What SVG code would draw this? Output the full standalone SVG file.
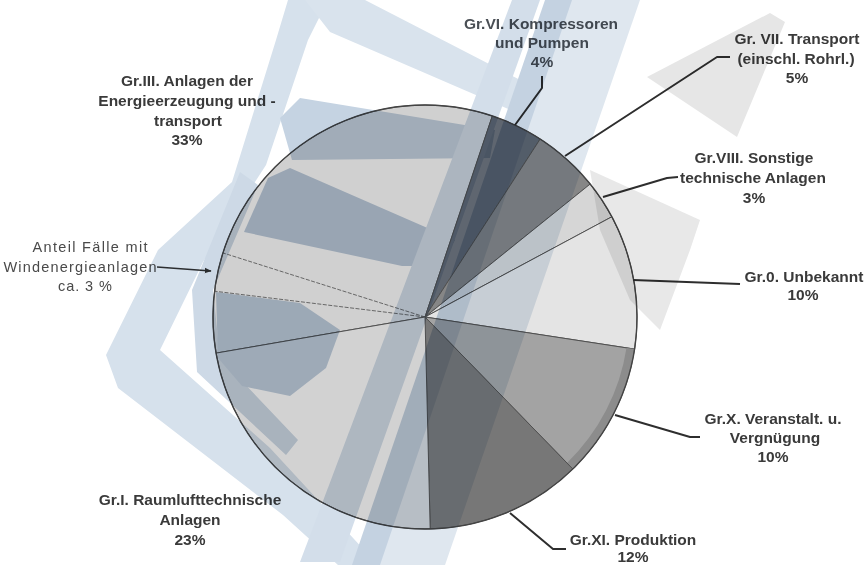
<svg xmlns="http://www.w3.org/2000/svg" width="866" height="565" viewBox="0 0 866 565">
<style>
.lbl{font-family:"Liberation Sans",Arial,sans-serif;font-weight:bold;font-size:15.5px;fill:#3a3a3a;text-anchor:middle}
.note{font-family:"Liberation Sans",Arial,sans-serif;font-size:14.5px;fill:#4a4a4a;text-anchor:middle}
.sl{stroke:#505050;stroke-width:1;stroke-linejoin:round}
.ld{fill:none;stroke:#2e2e2e;stroke-width:2;stroke-linejoin:round}
.wm{mix-blend-mode:multiply}
</style>
<defs>
<marker id="arr" viewBox="0 0 10 10" refX="9" refY="5" markerWidth="7" markerHeight="7" orient="auto" markerUnits="userSpaceOnUse">
<path d="M0,1 L10,5 L0,9 Z" fill="#333"/>
</marker>
</defs>
<rect width="866" height="565" fill="#ffffff"/>

<g id="gr-III">
<path class="sl" d="M425,317 L216.1,353.1 A212,212 0 0 1 492.3,116 Z" fill="#d0d0d0"/>
<line x1="425" y1="317" x2="214.6" y2="291.2" stroke="#5a5a5a" stroke-width="0.9" stroke-dasharray="4 1.5"/>
<line x1="425" y1="317" x2="222.9" y2="252.9" stroke="#5a5a5a" stroke-width="0.9" stroke-dasharray="4 1.5"/>
<text class="lbl" x="187" y="86">Gr.III. Anlagen der</text>
<text class="lbl" x="187" y="106">Energieerzeugung und -</text>
<text class="lbl" x="188" y="126">transport</text>
<text class="lbl" x="187" y="145">33%</text>
</g>
<g id="gr-VI">
<path class="sl" d="M425,317 L492.3,116 A212,212 0 0 1 540.2,139 Z" fill="#5f6670"/>
<text class="lbl" x="541" y="29" style="fill:#4a4f55">Gr.VI. Kompressoren</text>
<text class="lbl" x="542" y="48" style="fill:#4a4f55">und Pumpen</text>
<text class="lbl" x="542" y="67" style="fill:#4a4f55">4%</text>
</g>
<g id="gr-VII">
<path class="sl" d="M425,317 L540.2,139 A212,212 0 0 1 590.1,184.1 Z" fill="#868686"/>
<text class="lbl" x="797" y="44">Gr. VII. Transport</text>
<text class="lbl" x="796" y="64">(einschl. Rohrl.)</text>
<text class="lbl" x="797" y="83">5%</text>
</g>
<g id="gr-VIII">
<path class="sl" d="M425,317 L590.1,184.1 A212,212 0 0 1 611.8,216.8 Z" fill="#d6d6d6"/>
<text class="lbl" x="754" y="163">Gr.VIII. Sonstige</text>
<text class="lbl" x="753" y="183">technische Anlagen</text>
<text class="lbl" x="754" y="203">3%</text>
</g>
<g id="gr-0">
<path class="sl" d="M425,317 L611.8,216.8 A212,212 0 0 1 634.6,349.1 Z" fill="#e4e4e4"/>
<text class="lbl" x="804" y="282">Gr.0. Unbekannt</text>
<text class="lbl" x="803" y="300">10%</text>
</g>
<g id="gr-X">
<path class="sl" d="M425,317 L634.6,349.1 A212,212 0 0 1 572.8,469 Z" fill="#a3a3a3"/>
<path d="M634.6,349.1 A212,212 0 0 1 572.8,469 L567,463 A204,204 0 0 0 626.5,348 Z" fill="#8c8c8c"/>
<text class="lbl" x="773" y="424">Gr.X. Veranstalt. u.</text>
<text class="lbl" x="775" y="443">Vergnügung</text>
<text class="lbl" x="773" y="462">10%</text>
</g>
<g id="gr-XI">
<path class="sl" d="M425,317 L572.8,469 A212,212 0 0 1 430.2,528.9 Z" fill="#777777"/>
<text class="lbl" x="633" y="545">Gr.XI. Produktion</text>
<text class="lbl" x="633" y="562">12%</text>
</g>
<g id="gr-I">
<path class="sl" d="M425,317 L430.2,528.9 A212,212 0 0 1 216.1,353.1 Z" fill="#d2d2d2"/>
<text class="lbl" x="190" y="505">Gr.I. Raumlufttechnische</text>
<text class="lbl" x="190" y="525">Anlagen</text>
<text class="lbl" x="190" y="545">23%</text>
</g>
<g id="note-wind">
<text class="note" x="90" y="252" textLength="115" lengthAdjust="spacing">Anteil Fälle mit</text>
<text class="note" x="80" y="272" textLength="153" lengthAdjust="spacing">Windenergieanlagen</text>
<text class="note" x="85" y="291" textLength="54" lengthAdjust="spacing">ca. 3 %</text>
</g>
<circle cx="425" cy="317" r="212" fill="none" stroke="#444" stroke-width="1.4"/>

<g id="connectors">
<polyline class="ld" points="542,76 542,88 515,125"/>
<polyline class="ld" points="730,57 717,57 565,156"/>
<polyline class="ld" points="678,177 667,178 603,197"/>
<polyline class="ld" points="633,280 740,284"/>
<polyline class="ld" points="615,415 690,437 700,437"/>
<polyline class="ld" points="510,513 553,549 566,549"/>
<line x1="157" y1="267" x2="211" y2="271" stroke="#333" stroke-width="1.6" marker-end="url(#arr)"/>
</g>

<g id="watermark" class="wm">
<polygon fill="#d6e1ec" points="288,0 328,0 308,40 266,165 203,262 160,350 270,448 378,565 338,565 283,515 118,388 106,355 158,250 232,182 276,40"/>
<polygon fill="#cdd9e6" points="240,172 258,185 213,290 220,358 298,440 286,455 197,372 192,290"/>
<polygon fill="#d9e3ed" points="305,0 365,0 530,85 522,115 330,32"/>
<polygon fill="#c5d3e2" points="280,118 300,98 495,130 490,158 292,160"/>
<polygon fill="#bccbdc" points="268,178 290,168 455,240 440,266 402,266 244,232"/>
<polygon fill="#c0cfdf" points="216,292 300,303 340,330 326,368 290,396 242,386 218,358"/>
<polygon fill="#dfe7ef" points="566,0 640,0 445,565 372,565"/>
<polygon fill="#c4d2e1" points="545,0 572,0 380,565 352,565"/>
<polygon fill="#d3deea" points="512,0 540,0 340,562 300,562"/>
<polygon fill="#e6e6e6" points="647,77 770,13 785,22 737,137"/>
<polygon fill="#e8e8e8" points="590,170 700,220 690,250 660,330 630,300 600,230"/>
</g>
</svg>
